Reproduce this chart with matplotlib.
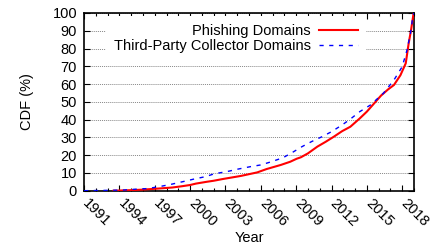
import matplotlib
matplotlib.use("Agg")
import matplotlib.pyplot as plt
import matplotlib.transforms as mtransforms
from matplotlib.ticker import MultipleLocator

plt.rcParams['font.family'] = ['Liberation Sans', 'DejaVu Sans']

# CDF of domain registration year
phish_years = [1993.5, 1995, 1996, 1997.5, 1998.5, 1999.3, 2000, 2000.5, 2001.4, 2002,
               2002.8, 2004.3, 2005.7, 2006.5, 2007.7, 2008.5, 2009.05, 2009.4, 2010,
               2010.8, 2011.5, 2012.2, 2012.9, 2013.6, 2014.4, 2015.0, 2015.6, 2016.2,
               2016.8, 2017.3, 2017.85, 2018.3, 2018.55, 2018.75, 2018.97]
phish_cdf = [0, 0.3, 0.6, 1.3, 1.8, 2.5, 3.2, 4.0, 5.0, 5.6,
             6.6, 8.3, 10.3, 12.2, 14.5, 16.3, 18.0, 18.8, 21.0,
             24.8, 27.5, 30.4, 33.5, 36.0, 40.7, 44.5, 49.0, 53.5,
             57.0, 59.5, 65.0, 71.7, 83.0, 90.4, 100]

third_years = [1991, 1993, 1994.4, 1995.5, 1996.4, 1997.4, 1998.4, 1999.4, 2000.3,
               2001.3, 2002.1, 2003.1, 2004.1, 2005.1, 2006, 2006.9, 2007.9, 2008.7,
               2009.5, 2010.3, 2011.2, 2012, 2012.9, 2013.6, 2014.4, 2015.3, 2016.4,
               2017.3, 2018, 2018.4, 2018.7, 2018.9, 2019]
third_cdf = [0, 0.2, 0.4, 0.9, 1.2, 2.3, 3.6, 5.1, 6.5,
             7.9, 9.6, 10.7, 12.2, 13.5, 14.5, 16.3, 18.6, 21.6,
             24.8, 27.6, 30.4, 33.2, 37.0, 40.3, 44.5, 48.2, 54.8,
             62.3, 69.8, 79.0, 88.6, 97.9, 100]

year_ticks = list(range(1991, 2019, 3))
fs = 10.5

fig = plt.figure(figsize=(4.37, 2.5), dpi=100)
ax = fig.add_axes([84 / 437, 1 - 190.7 / 250, 330 / 437, 177.7 / 250])

ax.plot(phish_years, phish_cdf, color='#ff0000', lw=1.5, label='Phishing Domains', zorder=3)
ax.plot(third_years, third_cdf, color='#0000ff', lw=1.0, dashes=(3, 4),
        label='Third-Party Collector Domains', zorder=3)

ax.set_xlim(1991, 2019)
ax.set_ylim(0, 100)
ax.xaxis.set_minor_locator(MultipleLocator(1))
ax.yaxis.set_major_locator(MultipleLocator(10))
ax.tick_params(which='both', direction='in', top=True, right=True, labelsize=fs, width=0.8)
ax.tick_params(which='major', length=4)
ax.tick_params(which='minor', length=2)
ax.tick_params(axis='x', pad=4)
ax.tick_params(axis='y', pad=5)
for s in ax.spines.values():
    s.set_linewidth(1.2)

ax.set_xticks(year_ticks)
ax.set_xticklabels([str(y) for y in year_ticks], rotation=-45, ha='left', va='top',
                   rotation_mode='anchor')
# nudge rotated year labels so they start right at the tick
shift = mtransforms.ScaledTranslation(6 / 100, 0, fig.dpi_scale_trans)
for lbl in ax.get_xticklabels():
    lbl.set_transform(lbl.get_transform() + shift)

ax.grid(axis='y', linestyle=(0, (1, 1)), color='#888888', lw=0.7, zorder=0)
ax.set_axisbelow(True)

ax.set_xlabel('Year', fontsize=fs, labelpad=1)
ax.set_ylabel('CDF (%)', fontsize=fs, labelpad=13)

leg = ax.legend(loc='upper right', bbox_to_anchor=(366 / 437, 1 - 16 / 250),
                bbox_transform=fig.transFigure, markerfirst=False, fontsize=fs,
                handlelength=2.65, handletextpad=0.6, labelspacing=0.05,
                borderpad=0.55, borderaxespad=0, frameon=True, fancybox=False,
                framealpha=1, edgecolor='none', facecolor='white')
leg.set_zorder(2)

fig.savefig('out.png', dpi=100)
